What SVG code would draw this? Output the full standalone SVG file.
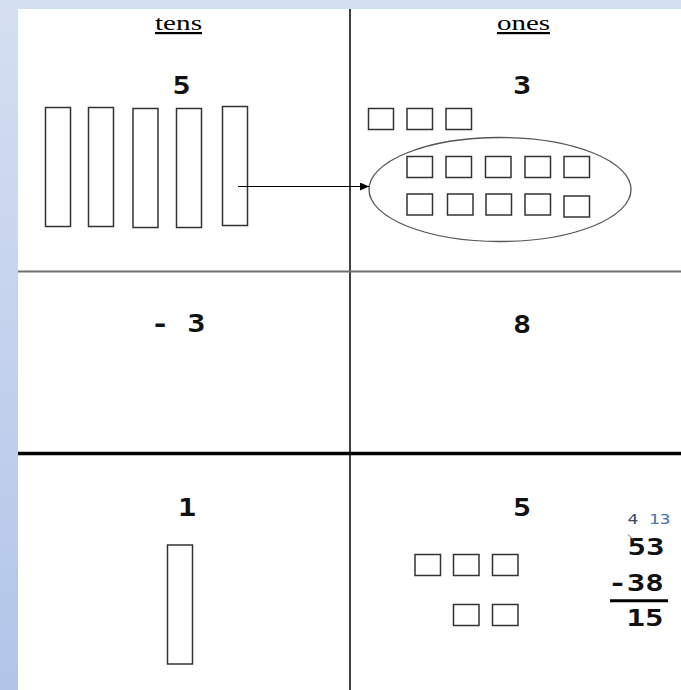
<svg xmlns="http://www.w3.org/2000/svg" width="681" height="690" viewBox="0 0 681 690">
<defs>
<linearGradient id="bg" x1="0" y1="0" x2="0" y2="1">
<stop offset="0" stop-color="#d5dff1"/>
<stop offset="1" stop-color="#b2c5e9"/>
</linearGradient>
<marker id="ah" markerWidth="10" markerHeight="8" refX="9" refY="4" orient="auto" markerUnits="userSpaceOnUse">
<path d="M0,0 L9,4 L0,8 Z" fill="#000"/>
</marker>
<style>
.blk{fill:#fff;stroke:#333;stroke-width:1.5}
.dig{font-family:"DejaVu Sans Mono","Liberation Mono",monospace;font-weight:bold;font-size:24px;fill:#111;text-anchor:middle}
.calc{font-family:"DejaVu Sans Mono","Liberation Mono",monospace;font-weight:bold;font-size:23px;fill:#111;text-anchor:middle}
.hdr{font-family:"Liberation Serif","Times New Roman",serif;font-size:22px;fill:#000;text-decoration:underline}
.small{font-family:"DejaVu Sans Mono","Liberation Mono",monospace;font-size:14px;text-anchor:middle}
</style>
</defs>
<rect x="0" y="0" width="681" height="690" fill="url(#bg)"/>
<rect x="0" y="0" width="681" height="9" fill="#d3def1"/>
<rect x="18" y="9" width="663" height="681" fill="#fff"/>

<g id="grid">
<line x1="350" y1="9" x2="350" y2="690" stroke="#000" stroke-width="1.5"/>
<line x1="18" y1="271.5" x2="681" y2="271.5" stroke="#6f6f6f" stroke-width="2"/>
<line x1="18" y1="453.5" x2="681" y2="453.5" stroke="#000" stroke-width="3.5"/>
</g>

<g id="headers">
<text class="hdr" x="155" y="30" textLength="47" lengthAdjust="spacingAndGlyphs">tens</text>
<text class="hdr" x="497" y="30" textLength="53" lengthAdjust="spacingAndGlyphs">ones</text>
</g>

<g id="tens-top">
<text class="dig" transform="translate(181.7,94) scale(1.26,1)">5</text>
<rect class="blk" x="45.5" y="107.5" width="25" height="119"/>
<rect class="blk" x="88.5" y="107.5" width="25" height="119"/>
<rect class="blk" x="133" y="108.5" width="25" height="119"/>
<rect class="blk" x="176.5" y="108.5" width="25" height="119"/>
<rect class="blk" x="222.5" y="106.5" width="25" height="119"/>
</g>

<g id="ones-top">
<text class="dig" transform="translate(522,94) scale(1.26,1)">3</text>
<rect class="blk" x="368.5" y="108.5" width="25" height="21"/>
<rect class="blk" x="407" y="108.5" width="25.5" height="21"/>
<rect class="blk" x="446" y="108.5" width="25.5" height="21"/>
<ellipse cx="500" cy="189.5" rx="131" ry="52" fill="none" stroke="#555" stroke-width="1.3"/>
<rect class="blk" x="407" y="156.5" width="25.5" height="21"/>
<rect class="blk" x="446" y="156.5" width="25.5" height="21"/>
<rect class="blk" x="485.5" y="156.5" width="25.5" height="21"/>
<rect class="blk" x="525" y="156.5" width="25.5" height="21"/>
<rect class="blk" x="564" y="156.5" width="25.5" height="21"/>
<rect class="blk" x="407" y="194" width="25.5" height="21"/>
<rect class="blk" x="447.5" y="194" width="25.5" height="21"/>
<rect class="blk" x="486" y="194" width="25.5" height="21"/>
<rect class="blk" x="525" y="194" width="25.5" height="21"/>
<rect class="blk" x="564" y="196" width="25.5" height="21"/>
</g>

<g id="connectors">
<line x1="238" y1="186.5" x2="369" y2="186.5" stroke="#000" stroke-width="1" marker-end="url(#ah)"/>
</g>

<g id="tens-mid">
<text class="dig" transform="translate(178.2,332) scale(1.26,1)">- 3</text>
</g>
<g id="ones-mid">
<text class="dig" transform="translate(522,333) scale(1.26,1)">8</text>
</g>

<g id="tens-bottom">
<text class="dig" transform="translate(187,516) scale(1.26,1)">1</text>
<rect class="blk" x="167.5" y="545" width="25" height="119"/>
</g>

<g id="ones-bottom">
<text class="dig" transform="translate(522,516) scale(1.26,1)">5</text>
<rect class="blk" x="415" y="554.5" width="25.5" height="21"/>
<rect class="blk" x="453.5" y="554.5" width="25.5" height="21"/>
<rect class="blk" x="492.5" y="554.5" width="25.5" height="21"/>
<rect class="blk" x="453.5" y="604.5" width="25.5" height="21"/>
<rect class="blk" x="492.5" y="604.5" width="25.5" height="21"/>
</g>

<g id="calculation">
<text class="small" transform="translate(649,524) scale(1.27,1)"><tspan fill="#3b4a66">4</tspan><tspan fill="#4a74ad"> 13</tspan></text>
<text class="calc" transform="translate(646,555) scale(1.34,1)">53</text>
<line x1="628" y1="534.5" x2="634" y2="540.5" stroke="#666" stroke-width="1"/>
<text class="calc" transform="translate(636,591) scale(1.34,1)">-38</text>
<line x1="610" y1="600.8" x2="668" y2="600.8" stroke="#000" stroke-width="3"/>
<text class="calc" transform="translate(645,626) scale(1.34,1)">15</text>
</g>
</svg>
